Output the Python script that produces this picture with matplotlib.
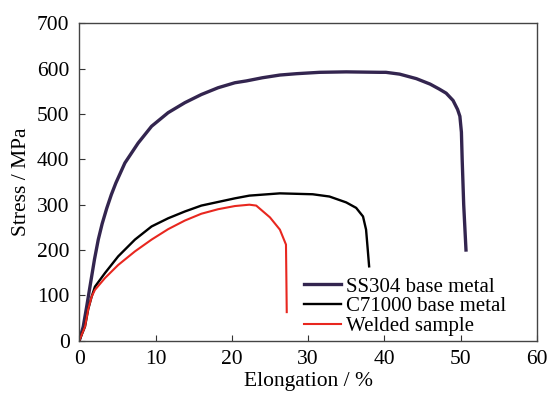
import numpy as np
import matplotlib
matplotlib.use('Agg')
import matplotlib.pyplot as plt

# stress-strain curves
ss304_x = [0, 0.52, 0.97, 1.4, 2.0, 2.49, 3.0, 3.6, 4.2, 4.8, 5.98, 7.72, 9.48, 11.65,
           13.84, 16.0, 18.2, 20.4, 21.9, 24.0, 26.3, 28.5, 31.5, 35.0, 39.4, 40.2,
           42.0, 44.2, 46.0, 47.2, 48.1, 49.0, 49.6, 49.9, 50.1, 50.2, 50.4, 50.7]
ss304_y = [0, 31, 75, 119, 180, 223, 258, 292, 322, 348, 392, 436, 473, 503,
           525, 543, 558, 569, 573, 580, 586, 589, 592, 593, 592, 592,
           588, 578, 566, 555, 546, 530, 510, 495, 460, 400, 300, 200]

c71000_x = [0, 0.75, 1.18, 1.62, 2.05, 3.36, 5.1, 7.3, 9.48, 11.65, 13.84, 16.0,
            18.2, 20.4, 22.3, 26.3, 30.6, 32.8, 35.0, 36.3, 37.2, 37.6, 37.8, 38.0]
c71000_y = [0, 31, 70, 97, 119, 149, 186, 223, 252, 270, 285, 298,
            306, 314, 320, 325, 323, 318, 305, 293, 274, 245, 205, 164]

weld_x = [0, 0.75, 1.18, 1.62, 2.05, 3.36, 5.1, 7.3, 9.48, 11.65, 13.84, 16.0,
          18.2, 20.4, 22.3, 23.2, 25.0, 26.3, 27.1, 27.15, 27.2]
weld_y = [0, 31, 70, 97, 112, 138, 167, 197, 223, 246, 265, 280,
          290, 297, 300, 298, 272, 245, 212, 140, 63]

labels = ['SS304 base metal', 'C71000 base metal', 'Welded sample']

plt.rcParams['font.family'] = ['Liberation Serif', 'DejaVu Serif']
plt.rcParams['font.size'] = 15.5

fig = plt.figure(figsize=(5.49, 3.96), dpi=100)
ax = fig.add_axes([0.1444, 0.1397, 0.978 - 0.1444, 0.941 - 0.1397])

ax.plot(ss304_x, ss304_y, color='#33254f', lw=2.4, label=labels[0], solid_joinstyle='round')
ax.plot(c71000_x, c71000_y, color='black', lw=1.7, label=labels[1], solid_joinstyle='round')
ax.plot(weld_x, weld_y, color='#e8271f', lw=1.5, label=labels[2], solid_joinstyle='round')

ax.set_xlim(0, 60)
ax.set_ylim(0, 700)
ax.set_xticks(np.arange(0, 61, 10))
ax.set_yticks(np.arange(0, 701, 100))
ax.tick_params(direction='in', length=4, width=0.8, pad=7, top=False, right=False,
               color='#333333')
for s in ax.spines.values():
    s.set_color('#444444')
    s.set_linewidth(1.0)

ax.set_xlabel('Elongation / %', labelpad=2)
ax.set_ylabel('Stress / MPa', labelpad=4)

ax.legend(loc='lower left', bbox_to_anchor=(0.49, 0.015), frameon=False,
          borderpad=0, borderaxespad=0, labelspacing=0.0, fontsize=15,
          handlelength=1.8, handletextpad=0.25)

fig.savefig('out.png', dpi=100)
